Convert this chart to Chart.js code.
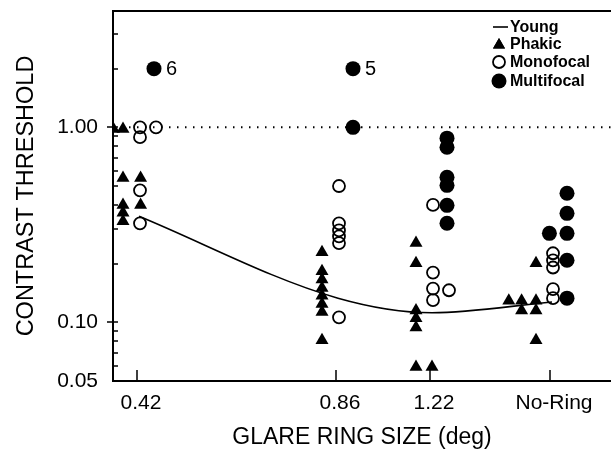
<!DOCTYPE html>
<html>
<head>
<meta charset="utf-8">
<script src="https://cdn.jsdelivr.net/npm/chart.js@4/dist/chart.umd.min.js"></script>
<style>
body{margin:0;background:#fff}
#wrap{width:611px;height:451px}
</style>
</head>
<body>
<div id="wrap"><canvas id="c" width="611" height="451"></canvas></div>
<script>
const ringLabels = ['0.42','0.86','1.22','No-Ring']
const ringPos = [0, 1.99, 2.93, 4.13]

const yTickValues = [0.05, 0.10, 1.00]

const young = [0.35, 0.133, 0.112, 0.127]

const phakic = [
  [0.98,0.98,0.55,0.55,0.40,0.40,0.365,0.33],
  [0.229,0.183,0.166,0.150,0.137,0.124,0.113,0.081],
  [0.255,0.201,0.115,0.105,0.094,0.059,0.059],
  [0.201,0.129,0.129,0.129,0.115,0.115,0.081]
]
const monofocal = [
  [1.0,1.0,0.89,0.475,0.322],
  [0.50,0.322,0.296,0.276,0.255,0.106],
  [0.40,0.180,0.149,0.130,0.146],
  [0.226,0.208,0.191,0.148,0.133]
]
const multifocal = [
  [2.0],
  [2.0,1.0],
  [0.88,0.79,0.554,0.504,0.398,0.322],
  [0.459,0.362,0.286,0.286,0.208,0.133]
]
// subjects above the top of the scale
const multiNotes = ['6','5','','']

/* side by side placement of overlapping marks (layout only) */
const phakicSide = [[-0.6,0,0,1.1,0,1.1,0,0],[0,0,0,0,0,0,0,0],[0,0,0,0,0,0,1],[0,-1.7,-0.9,0,-0.9,0,0]]
const monoSide = [[0,1,0,0,0],[0,0,0,0,0,0],[0,0,0,0,1],[0,0,0,0,0]]
const multiSide = [[0],[0,0],[0,0,0,0,0,0],[0,0,0,-1.1,0,0]]

const FONT = "'Liberation Sans', Arial, sans-serif"
const SLOT = 0.16
const X_MIN = -0.24, X_MAX = 4.74

function points(groups, side, base){
  let out = []
  groups.forEach((vals,g)=>{
    vals.forEach((v,i)=>{
      out.push({x: ringPos[g] + base + side[g][i]*SLOT, y: v})
    })
  })
  return out
}

const extras = {
  id:'extras',
  afterDraw(chart){
    const ctx = chart.ctx, a = chart.chartArea
    const xs = chart.scales.x, ys = chart.scales.y
    ctx.save()
    ctx.strokeStyle = '#000'
    ctx.fillStyle = '#000'

    // top frame line
    ctx.lineWidth = 2
    ctx.beginPath()
    ctx.moveTo(a.left-1, a.top)
    ctx.lineTo(a.right, a.top)
    ctx.stroke()

    // tick marks
    ctx.lineWidth = 1.5
    ctx.beginPath()
    ;[0.06,0.07,0.08,0.09,0.2,0.3,0.4,0.5,0.6,0.7,0.8,0.9,2,3].forEach(v=>{
      let py = Math.round(ys.getPixelForValue(v))
      ctx.moveTo(a.left, py); ctx.lineTo(a.left+5, py)
    })
    ;[0.1,1].forEach(v=>{
      let py = Math.round(ys.getPixelForValue(v))
      ctx.moveTo(a.left-6, py); ctx.lineTo(a.left+5, py)
    })
    ringPos.forEach(p=>{
      let px = Math.round(xs.getPixelForValue(p))
      ctx.moveTo(px, a.bottom); ctx.lineTo(px, a.bottom-11)
    })
    ctx.stroke()

    // counts next to the top multifocal points
    ctx.font = "20px " + FONT
    ctx.textBaseline = 'middle'
    ctx.textAlign = 'left'
    multiNotes.forEach((t,g)=>{
      if(!t) return
      let top = Math.max(...multifocal[g])
      ctx.fillText(t, xs.getPixelForValue(ringPos[g]+0.17)+12, ys.getPixelForValue(top)+1)
    })

    /* LEGEND */
    let lx = a.right - 112, tx = a.right - 101
    let rows = [27, 44, 62, 81]
    ctx.font = "bold 16px " + FONT
    ctx.lineWidth = 1.6
    ctx.beginPath(); ctx.moveTo(lx-6, rows[0]); ctx.lineTo(lx+9, rows[0]); ctx.stroke()
    Chart.helpers.drawPoint(ctx, {pointStyle:'triangle', radius:7, borderWidth:0}, lx, rows[1]+1)
    ctx.fill()
    ctx.lineWidth = 1.8
    ctx.beginPath(); ctx.arc(lx, rows[2], 6, 0, Math.PI*2); ctx.stroke()
    ctx.beginPath(); ctx.arc(lx, rows[3], 7.5, 0, Math.PI*2); ctx.fill()
    ;['Young','Phakic','Monofocal','Multifocal'].forEach((t,i)=>{
      ctx.fillText(t, tx, rows[i]+1)
    })
    ctx.restore()
  }
}

new Chart(document.getElementById('c'),{
  type:'scatter',
  data:{
    datasets:[
      {
        label:'Multifocal',
        data: points(multifocal, multiSide, 0.17),
        pointStyle:'circle', pointRadius:7.5,
        backgroundColor:'#000', borderColor:'#000', borderWidth:0,
        order:1
      },
      {
        label:'Monofocal',
        data: points(monofocal, monoSide, 0.03),
        pointStyle:'circle', pointRadius:6,
        backgroundColor:'rgba(0,0,0,0)', borderColor:'#000', borderWidth:1.8,
        order:2
      },
      {
        label:'Phakic',
        data: points(phakic, phakicSide, -0.14),
        pointStyle:'triangle', pointRadius:7.5,
        backgroundColor:'#000', borderColor:'#000', borderWidth:0,
        order:3
      },
      {
        label:'Young',
        data: young.map((v,i)=>({x: ringPos[i]+0.02, y: v})),
        showLine:true, cubicInterpolationMode:'monotone',
        borderColor:'#000', borderWidth:1.6, pointRadius:0,
        order:4
      },
      {
        label:'ref',
        data:[{x:X_MIN,y:1},{x:X_MAX,y:1}],
        showLine:true, borderColor:'#000', borderWidth:2,
        borderDash:[1.5,6.5], pointRadius:0,
        order:5
      }
    ]
  },
  options:{
    responsive:false,
    animation:false,
    events:[],
    layout:{autoPadding:false, padding:{top:11, right:0, left:0, bottom:0}},
    plugins:{legend:{display:false}, tooltip:{enabled:false}},
    scales:{
      x:{
        type:'linear', min:X_MIN, max:X_MAX,
        afterBuildTicks: s => { s.ticks = ringPos.map(v=>({value:v})) },
        afterFit: s => { s.height = 70; s.paddingLeft = 0; s.paddingRight = 0 },
        grid:{display:false, drawTicks:false},
        border:{display:true, color:'#000', width:2},
        ticks:{
          autoSkip:false, maxRotation:0, padding:10, labelOffset:4,
          color:'#000', font:{family:FONT, size:21},
          callback:(v,i)=>ringLabels[i]
        },
        title:{
          display:true, text:'GLARE RING SIZE (deg)', color:'#000',
          font:{family:FONT, size:23}, padding:{top:0, bottom:0}
        }
      },
      y:{
        type:'logarithmic', min:0.05, max:3.95,
        afterBuildTicks: s => { s.ticks = yTickValues.map(v=>({value:v})) },
        afterFit: s => { s.width = 113; s.paddingTop = 0; s.paddingBottom = 0 },
        grid:{display:false, drawTicks:false},
        border:{display:true, color:'#000', width:2},
        ticks:{
          padding:15, color:'#000', font:{family:FONT, size:21},
          callback: v => Number(v).toFixed(2)
        },
        title:{
          display:true, text:'CONTRAST THRESHOLD', color:'#000',
          font:{family:FONT, size:23.5}, padding:{top:12, bottom:0}
        }
      }
    }
  },
  plugins:[extras]
})
</script>
</body>
</html>
